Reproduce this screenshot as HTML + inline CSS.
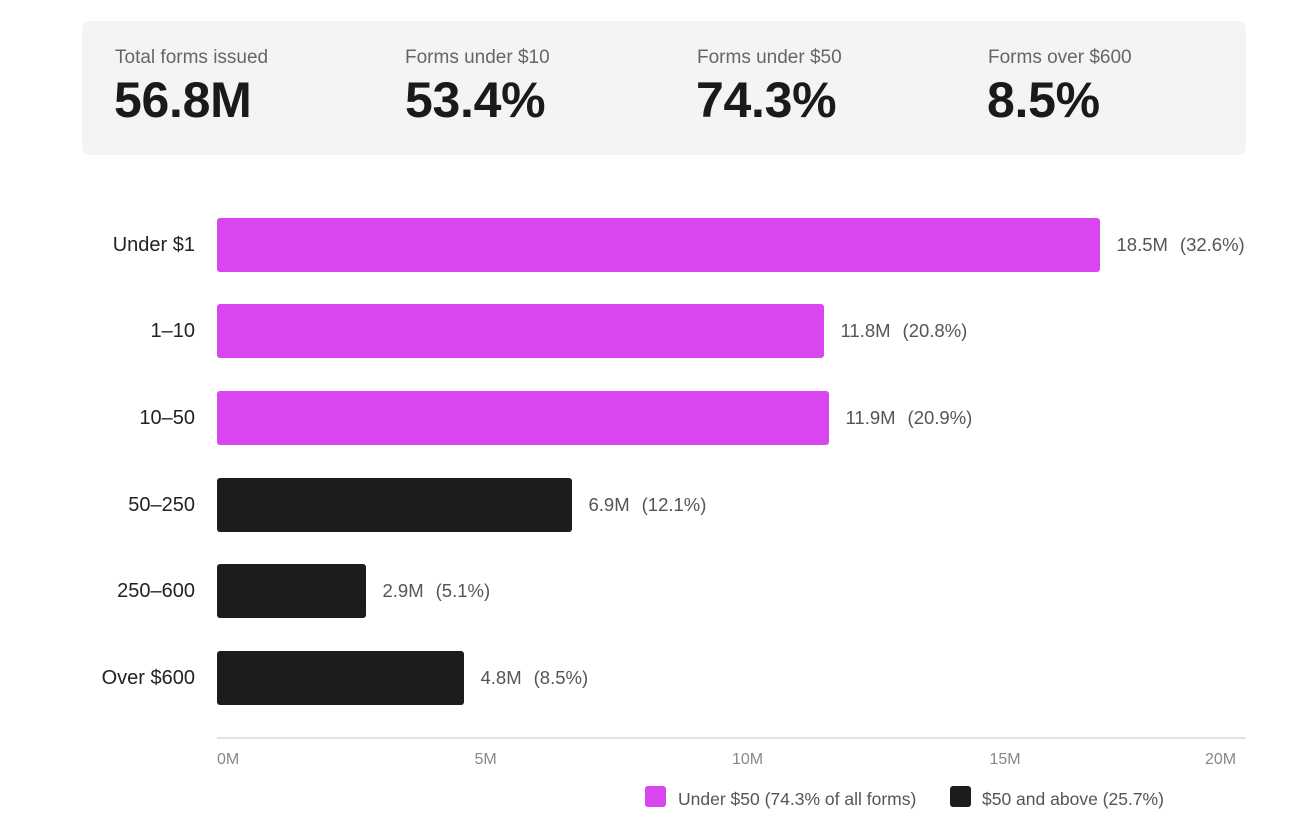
<!DOCTYPE html>
<html>
<head>
<meta charset="utf-8">
<style>
  html,body{margin:0;padding:0;background:#fff;}
  body{width:1312px;height:818px;position:relative;overflow:hidden;font-family:"Liberation Sans",Arial,sans-serif;}
  .card{position:absolute;left:82px;top:21px;width:1164px;height:134px;background:#f4f4f4;border-radius:8px;}
  .slabel{position:absolute;top:47.5px;font-size:19px;line-height:19px;color:#666;white-space:nowrap;}
  .sval{position:absolute;top:75px;font-size:50px;line-height:50px;font-weight:bold;color:#1a1a1a;letter-spacing:-0.3px;white-space:nowrap;}
  .row{position:absolute;left:0;height:54px;width:1312px;}
  .cat{position:absolute;right:1117px;top:0;height:54px;line-height:54px;font-size:20px;color:#222;white-space:nowrap;text-align:right;}
  .bar{position:absolute;left:217px;top:0;height:54px;border-radius:3px;}
  .pink{background:#d946ef;}
  .dark{background:#1c1c1c;}
  .val{position:absolute;top:0;height:54px;line-height:54px;font-size:18.5px;color:#555;white-space:nowrap;}
  .val span{margin-left:12px;}
  .axis{position:absolute;left:217px;top:737px;width:1029px;height:2px;background:#e2e2e2;}
  .tick{position:absolute;top:752px;font-size:16px;line-height:16px;color:#888;white-space:nowrap;}
  .sw{position:absolute;top:786px;width:21px;height:21px;border-radius:3px;}
  .leg{position:absolute;top:790px;font-size:17.5px;line-height:18px;color:#555;white-space:nowrap;}
</style>
</head>
<body>
  <div class="card"></div>
  <div class="slabel" style="left:115px">Total forms issued</div>
  <div class="sval" style="left:114px">56.8M</div>
  <div class="slabel" style="left:405px">Forms under $10</div>
  <div class="sval" style="left:405px">53.4%</div>
  <div class="slabel" style="left:697px">Forms under $50</div>
  <div class="sval" style="left:696px">74.3%</div>
  <div class="slabel" style="left:988px">Forms over $600</div>
  <div class="sval" style="left:987px">8.5%</div>

  <div class="row" style="top:217.5px">
    <div class="cat">Under $1</div>
    <div class="bar pink" style="width:883px"></div>
    <div class="val" style="left:1116.5px">18.5M<span>(32.6%)</span></div>
  </div>
  <div class="row" style="top:304.2px">
    <div class="cat">1–10</div>
    <div class="bar pink" style="width:607px"></div>
    <div class="val" style="left:840.5px">11.8M<span>(20.8%)</span></div>
  </div>
  <div class="row" style="top:390.9px">
    <div class="cat">10–50</div>
    <div class="bar pink" style="width:612px"></div>
    <div class="val" style="left:845.5px">11.9M<span>(20.9%)</span></div>
  </div>
  <div class="row" style="top:477.6px">
    <div class="cat">50–250</div>
    <div class="bar dark" style="width:355px"></div>
    <div class="val" style="left:588.5px">6.9M<span>(12.1%)</span></div>
  </div>
  <div class="row" style="top:564.3px">
    <div class="cat">250–600</div>
    <div class="bar dark" style="width:149px"></div>
    <div class="val" style="left:382.5px">2.9M<span>(5.1%)</span></div>
  </div>
  <div class="row" style="top:651px">
    <div class="cat">Over $600</div>
    <div class="bar dark" style="width:247px"></div>
    <div class="val" style="left:480.5px">4.8M<span>(8.5%)</span></div>
  </div>

  <div class="axis"></div>
  <div class="tick" style="left:217px">0M</div>
  <div class="tick" style="left:474.5px">5M</div>
  <div class="tick" style="left:732px">10M</div>
  <div class="tick" style="left:989.5px">15M</div>
  <div class="tick" style="left:1205px">20M</div>

  <div class="sw pink" style="left:645px"></div>
  <div class="leg" style="left:678px">Under $50 (74.3% of all forms)</div>
  <div class="sw dark" style="left:950px"></div>
  <div class="leg" style="left:982px">$50 and above (25.7%)</div>
</body>
</html>
